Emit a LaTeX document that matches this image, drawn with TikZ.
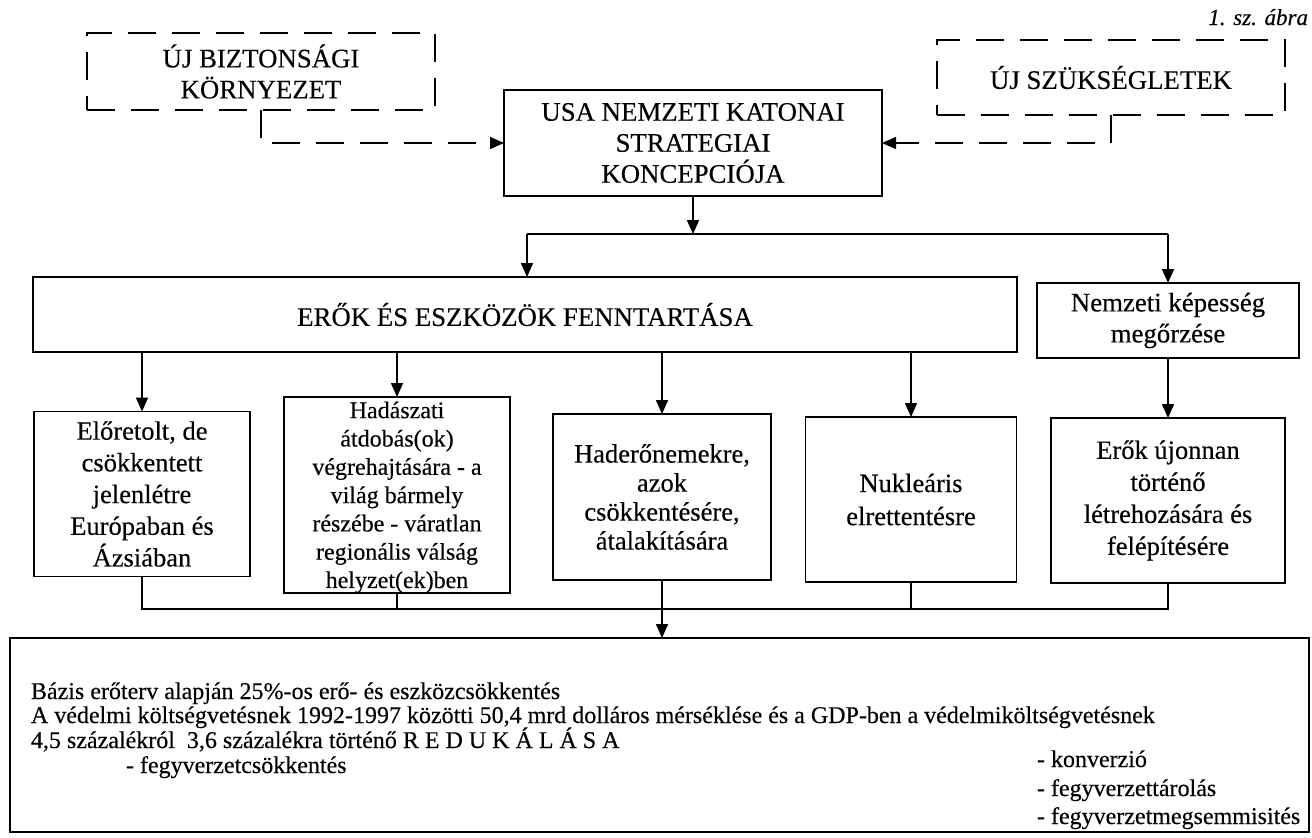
\documentclass[tikz,border=0pt]{standalone}
\usepackage{fontspec}
\setmainfont{Liberation Serif}[FakeBold=0.3]
\usetikzlibrary{arrows.meta}
\begin{document}
\begin{tikzpicture}[x=1pt,y=-1pt,
  every node/.style={inner sep=0pt, outer sep=0pt},
  solidbox/.style={draw, line width=1.6pt, align=center},
  dbox/.style={draw, line width=1.5pt, dash pattern=on 28pt off 16pt, align=center},
  big/.style={font=\fontsize{26.8}{31}\selectfont},
  conn/.style={line width=1.6pt},
  arr/.style={line width=1.6pt, -{Triangle[length=14pt,width=12pt]}},
  darr/.style={arr, line width=1.5pt, dash pattern=on 28pt off 16pt},
  txt/.style={anchor=base west, font=\fontsize{24}{24}\selectfont}
]
\useasboundingbox (0,0) rectangle (1312,838);

\node[anchor=base east, font=\itshape\fontsize{23}{23}\selectfont] (title) at (1308,25) {1. sz. ábra};

\node[dbox, big, minimum width=348pt, minimum height=77pt] (env) at (261,71.5) {ÚJ BIZTONSÁGI\\KÖRNYEZET};
\node[dbox, big, minimum width=348pt, minimum height=75pt] (need) at (1111,77.5) {ÚJ SZÜKSÉGLETEK};
\node[solidbox, big, minimum width=378pt, minimum height=106pt] (usa) at (693,143) {USA NEMZETI KATONAI\\STRATEGIAI\\KONCEPCIÓJA};

\node[solidbox, big, minimum width=984pt, minimum height=75pt] (eroek) at (525,314.5) {ERŐK ÉS ESZKÖZÖK FENNTARTÁSA};
\node[solidbox, big, minimum width=262pt, minimum height=75pt] (nemz) at (1168,320.5) {Nemzeti képesség\\megőrzése};

\node[solidbox, font=\fontsize{26.5}{31.7}\selectfont, minimum width=216pt, minimum height=165pt] (b1) at (142,494) {Előretolt, de\\csökkentett\\jelenlétre\\Európaban és\\Ázsiában};
\node[solidbox, minimum width=226pt, minimum height=196pt] (b2) at (397,495) {};
\node[font=\fontsize{24}{28.3}\selectfont, align=center, anchor=north] (b2t) at (397,401.5) {Hadászati\\átdobás(ok)\\végrehajtására - a\\világ bármely\\részébe - váratlan\\regionális válság\\helyzet(ek)ben};
\node[solidbox, font=\fontsize{26.5}{29}\selectfont, minimum width=218pt, minimum height=166pt] (b3) at (662,497) {Haderőnemekre,\\azok\\csökkentésére,\\átalakítására};
\node[solidbox, font=\fontsize{26.5}{33}\selectfont, minimum width=211pt, minimum height=165pt] (b4) at (911,499.5) {Nukleáris\\elrettentésre};
\node[solidbox, font=\fontsize{26.5}{32}\selectfont, minimum width=234pt, minimum height=165pt] (b5) at (1168,500.5) {Erők újonnan\\történő\\létrehozására és\\felépítésére};

\node[solidbox, minimum width=1299pt, minimum height=194pt] (bottom) at (659.5,735) {};

\node[txt] (t1) at (31,699) {Bázis erőterv alapján 25\%-os erő- és eszközcsökkentés};
\node[txt] (t2) at (31,723) {A védelmi költségvetésnek 1992-1997 közötti 50,4 mrd dolláros mérséklése és a GDP-ben a védelmiköltségvetésnek};
\node[txt] (t3) at (31,748) {4,5 százalékról\ \ 3,6 százalékra történő R E D U K Á L Á S A};
\node[txt] (t4) at (126,773) {- fegyverzetcsökkentés};
\node[txt] (t5) at (1037,767) {- konverzió};
\node[txt] (t6) at (1037,796) {- fegyverzettárolás};
\node[txt] (t7) at (1037,824) {- fegyverzetmegsemmisités};

% dashed inputs
\draw[darr] (env.south) |- (usa.west);
\draw[darr] (need.south) |- (usa.east);

% top bus
\coordinate (busM) at (693,234);
\coordinate (busL) at (527,234);
\coordinate (busR) at (1168,234);
\draw[arr] (usa.south) -- (busM);
\draw[conn] (busL) -- (busR);
\draw[arr] (busL) -- (busL |- eroek.north);
\draw[arr] (busR) -- (nemz.north);

% to row 3
\draw[arr] (b1.north |- eroek.south) -- (b1.north);
\draw[arr] (b2.north |- eroek.south) -- (b2.north);
\draw[arr] (b3.north |- eroek.south) -- (b3.north);
\draw[arr] (b4.north |- eroek.south) -- (b4.north);
\draw[arr] (nemz.south) -- (b5.north);

% bottom bus
\coordinate (bb) at (0,609);
\draw[conn] (b1.south) -- (b1.south |- bb) -- (b5.south |- bb) -- (b5.south);
\draw[conn] (b2.south) -- (b2.south |- bb);
\draw[conn] (b4.south) -- (b4.south |- bb);
\draw[arr] (b3.south) -- (bottom.north -| b3.south);
\end{tikzpicture}
\end{document}
